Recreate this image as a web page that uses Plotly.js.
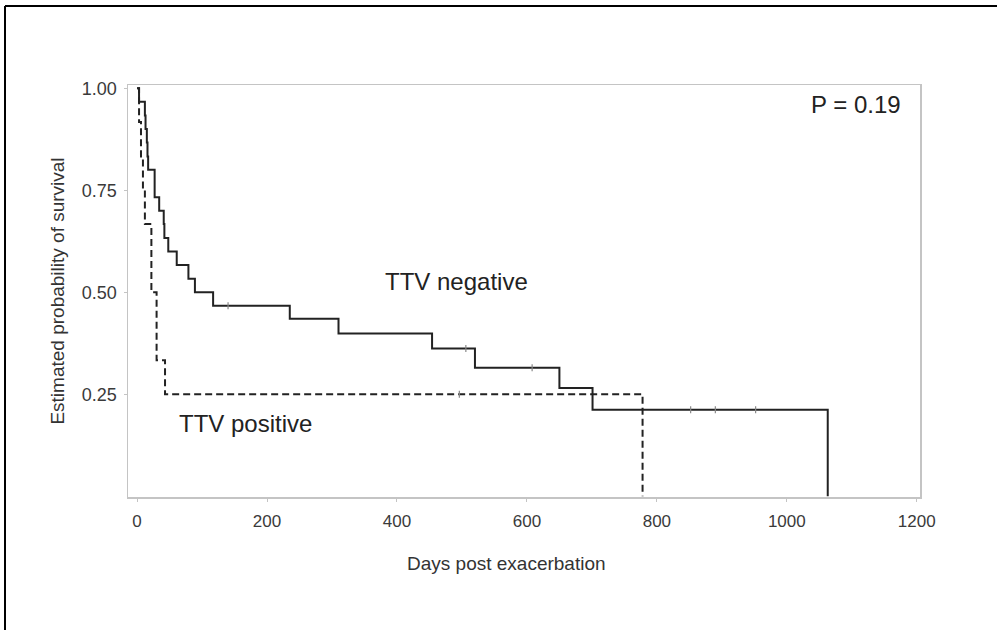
<!DOCTYPE html>
<html>
<head>
<meta charset="utf-8">
<script src="https://cdn.plot.ly/plotly-3.0.1.min.js"></script>
<style>
  html, body { margin: 0; padding: 0; background: #fff; }
  #chart { width: 997px; height: 630px; }
</style>
</head>
<body>
<div id="chart"></div>
<script>
// TTV negative (solid) Kaplan–Meier step curve
const negDays = [0, 3, 12, 13, 15, 16, 17, 27, 34, 41, 42, 48, 61, 79, 89, 117, 235, 310, 454, 520, 650, 701, 1063];
const negSurv = [1.0, 0.967, 0.933, 0.9, 0.867, 0.833, 0.8, 0.733, 0.70, 0.667, 0.633, 0.60, 0.567, 0.533, 0.50, 0.467, 0.435, 0.399, 0.362, 0.315, 0.265, 0.212, 0];
const negCensorDays = [140, 506, 608, 852, 890, 952];
const negCensorSurv = [0.467, 0.362, 0.315, 0.212, 0.212, 0.212];

// TTV positive (dashed)
const posDays = [0, 3, 6, 9, 12, 22, 30, 43, 778];
const posSurv = [1.0, 0.917, 0.833, 0.75, 0.667, 0.5, 0.333, 0.25, 0];
const posCensorDays = [496];
const posCensorSurv = [0.25];

const xTicks = [0, 200, 400, 600, 800, 1000, 1200];
const yTicks = [0.25, 0.50, 0.75, 1.00];
const yTickText = ['0.25', '0.50', '0.75', '1.00'];
const xTitle = 'Days post exacerbation';
const yTitle = 'Estimated probability of survival';

const FONT = 'Liberation Sans, Arial, sans-serif';

const censorMarker = { symbol: 'line-ns-open', size: 5, color: '#888', line: { width: 1.2, color: '#888' } };

const traces = [
  { x: posDays, y: posSurv, type: 'scatter', mode: 'lines', line: { shape: 'hv', color: '#222', width: 2, dash: '7px,4px' }, name: 'TTV positive', hoverinfo: 'skip' },
  { x: negDays, y: negSurv, type: 'scatter', mode: 'lines', line: { shape: 'hv', color: '#222', width: 2 }, name: 'TTV negative', hoverinfo: 'skip' },
  { x: negCensorDays, y: negCensorSurv, type: 'scatter', mode: 'markers', marker: censorMarker, hoverinfo: 'skip' },
  { x: posCensorDays, y: posCensorSurv, type: 'scatter', mode: 'markers', marker: censorMarker, hoverinfo: 'skip' }
];

const layout = {
  width: 997, height: 630,
  margin: { l: 128, r: 77, t: 85, b: 133 },
  paper_bgcolor: '#fff', plot_bgcolor: '#fff',
  showlegend: false,
  font: { family: FONT, color: '#333' },
  xaxis: {
    range: [-14, 1205], tickvals: xTicks, ticktext: xTicks.map(String),
    showgrid: false, zeroline: false,
    showline: true, mirror: true, linecolor: '#c4c4c4', linewidth: 1.5,
    ticks: 'outside', ticklen: 3, tickcolor: '#c4c4c4',
    ticklabelstandoff: 5,
    tickfont: { size: 17, color: '#3a3a3a', family: FONT }
  },
  yaxis: {
    range: [-0.002, 1.008], tickvals: yTicks, ticktext: yTickText,
    showgrid: false, zeroline: false,
    showline: true, mirror: true, linecolor: '#c4c4c4', linewidth: 1.5,
    ticks: 'outside', ticklen: 3, tickcolor: '#c4c4c4',
    ticklabelstandoff: 3,
    tickfont: { size: 18, color: '#3a3a3a', family: FONT },
    title: { text: yTitle, font: { size: 19, color: '#333', family: FONT }, standoff: 12 }
  },
  annotations: [
    { x: 1106, y: 0.961, xref: 'x', yref: 'y', text: 'P = 0.19', showarrow: false, font: { size: 24, color: '#222', family: FONT } },
    { x: 492, y: 0.526, xref: 'x', yref: 'y', text: 'TTV negative', showarrow: false, font: { size: 24, color: '#222', family: FONT } },
    { x: 167, y: 0.179, xref: 'x', yref: 'y', text: 'TTV positive', showarrow: false, font: { size: 24, color: '#222', family: FONT } },
    { x: (506 - 128) / 792, y: (497 - 563) / 412, xref: 'paper', yref: 'paper', xanchor: 'center', yanchor: 'middle', text: xTitle, showarrow: false, font: { size: 19, color: '#333', family: FONT } }
  ],
  shapes: [
    { type: 'line', xref: 'paper', yref: 'paper', x0: (5 - 128) / 792, x1: (997 - 128) / 792, y0: (497 - 6) / 412, y1: (497 - 6) / 412, line: { color: '#000', width: 2 } },
    { type: 'line', xref: 'paper', yref: 'paper', x0: (5 - 128) / 792, x1: (5 - 128) / 792, y0: (497 - 6) / 412, y1: (497 - 630) / 412, line: { color: '#000', width: 2 } }
  ]
};

Plotly.newPlot('chart', traces, layout, { staticPlot: true, displayModeBar: false });
</script>
</body>
</html>
